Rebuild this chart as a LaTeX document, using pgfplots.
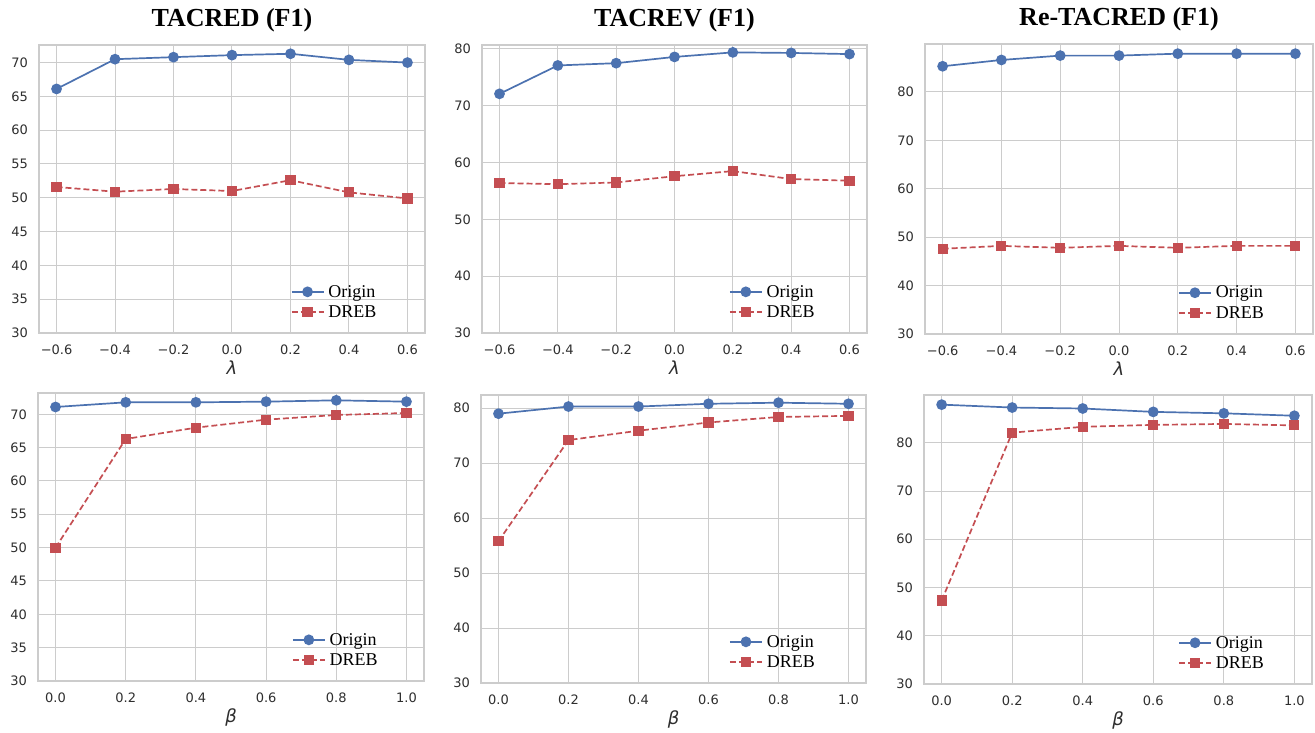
\documentclass[border=0pt]{standalone}
\usepackage{pgfplots}
\pgfplotsset{compat=1.18}
\usepackage{fontspec}
\setmainfont{DejaVu Sans}
\newfontfamily\tnr{Liberation Serif}
\definecolor{sblue}{HTML}{4C72B0}
\definecolor{sred}{HTML}{C44E52}
\definecolor{gridc}{HTML}{CCCCCC}
\definecolor{tickc}{HTML}{2E2E2E}
\pgfplotsset{
  myax/.style={
    scale only axis,
    axis line style={draw=gridc, line width=1.25pt},
    grid=major,
    major grid style={draw=gridc, line width=1pt},
    tick style={draw=none},
    ymin=30,
    /pgf/number format/assume math mode=true,
    tick label style={font=\fontsize{13}{13}\selectfont, color=tickc},
    yticklabel style={inner sep=0pt, anchor=east, xshift=-11pt},
    xticklabel style={inner sep=0pt, anchor=north, yshift=-12pt},
    xlabel style={font=\fontsize{18}{18}\selectfont\itshape, color=tickc, at={(0.5,0)}, anchor=north, inner sep=0pt, yshift=-28pt},
    title style={font=\tnr\bfseries\fontsize{26}{26}\selectfont, at={(0.5,1)}, anchor=base, yshift=12pt, inner sep=0pt},
    legend style={draw=none, fill=none, font=\tnr\fontsize{18}{18}\selectfont, anchor=south east, at={(0.885,0.045)}, inner sep=0pt, row sep=5pt, nodes={inner sep=1pt, inner xsep=4pt}},
    legend cell align=left,
    legend image code/.code={\draw[mark repeat=2,mark phase=2] plot coordinates {(0pt,0pt) (16pt,0pt) (32pt,0pt)};},
  },
  orig/.style={sblue, line width=1.7pt, mark=*, mark size=4.5pt, mark options={solid, fill=sblue, draw=sblue}},
  dreb/.style={sred, line width=1.7pt, dash pattern=on 6pt off 3pt, mark=square*, mark size=4.2pt, mark options={solid, fill=sred, draw=sred}},
  lamx/.style={xmin=-0.66, xmax=0.66, xtick={-0.6,-0.4,-0.2,0,0.2,0.4,0.6},
    xticklabels={−0.6,−0.4,−0.2,0.0,0.2,0.4,0.6}, xlabel={λ}},
  betx/.style={xmin=-0.05, xmax=1.05, xtick={0,0.2,0.4,0.6,0.8,1.0},
    xticklabels={0.0,0.2,0.4,0.6,0.8,1.0}, xlabel={β}},
}
\begin{document}
\begin{tikzpicture}
\useasboundingbox (0,0) rectangle (1315pt,733pt);
% ---- Top row
\begin{axis}[myax, lamx, at={(39pt,400pt)}, anchor=south west, width=386pt, height=288pt,
  ymax=72.6, ytick={30,35,...,70}, title={TACRED (F1)}]
\addplot[orig] coordinates {(-0.6,66.1) (-0.4,70.5) (-0.2,70.8) (0,71.1) (0.2,71.3) (0.4,70.4) (0.6,70.0)};
\addlegendentry{Origin}
\addplot[dreb] coordinates {(-0.6,51.6) (-0.4,50.9) (-0.2,51.3) (0,51.0) (0.2,52.6) (0.4,50.8) (0.6,49.9)};
\addlegendentry{DREB}
\end{axis}
\begin{axis}[myax, lamx, at={(482pt,400pt)}, anchor=south west, width=385pt, height=288pt,
  ymax=80.7, ytick={30,40,...,80}, title={TACREV (F1)}, legend style={at={(0.875,0.045)}}]
\addplot[orig] coordinates {(-0.6,72.1) (-0.4,77.1) (-0.2,77.5) (0,78.6) (0.2,79.4) (0.4,79.3) (0.6,79.1)};
\addlegendentry{Origin}
\addplot[dreb] coordinates {(-0.6,56.4) (-0.4,56.2) (-0.2,56.5) (0,57.6) (0.2,58.5) (0.4,57.1) (0.6,56.8)};
\addlegendentry{DREB}
\end{axis}
\begin{axis}[myax, lamx, at={(925pt,399pt)}, anchor=south west, width=388pt, height=290pt,
  ymax=89.9, ytick={30,40,...,80}, title={Re-TACRED (F1)}, legend style={at={(0.884,0.045)}}]
\addplot[orig] coordinates {(-0.6,85.3) (-0.4,86.6) (-0.2,87.5) (0,87.5) (0.2,87.9) (0.4,87.9) (0.6,87.9)};
\addlegendentry{Origin}
\addplot[dreb] coordinates {(-0.6,47.6) (-0.4,48.2) (-0.2,47.8) (0,48.2) (0.2,47.8) (0.4,48.2) (0.6,48.2)};
\addlegendentry{DREB}
\end{axis}
% ---- Bottom row
\begin{axis}[myax, betx, at={(38pt,52pt)}, anchor=south west, width=386pt, height=288pt,
  ymax=73.2, ytick={30,35,...,70}, legend style={at={(0.891,0.045)}}]
\addplot[orig] coordinates {(0,71.1) (0.2,71.8) (0.4,71.8) (0.6,71.9) (0.8,72.1) (1.0,71.9)};
\addlegendentry{Origin}
\addplot[dreb] coordinates {(0,50.0) (0.2,66.3) (0.4,68.0) (0.6,69.2) (0.8,69.9) (1.0,70.2)};
\addlegendentry{DREB}
\end{axis}
\begin{axis}[myax, betx, at={(481pt,50pt)}, anchor=south west, width=385pt, height=288pt,
  ymax=82.4, ytick={30,40,...,80}, legend style={at={(0.878,0.045)}}]
\addplot[orig] coordinates {(0,79.0) (0.2,80.3) (0.4,80.3) (0.6,80.8) (0.8,81.0) (1.0,80.8)};
\addlegendentry{Origin}
\addplot[dreb] coordinates {(0,55.8) (0.2,74.2) (0.4,75.9) (0.6,77.4) (0.8,78.4) (1.0,78.6)};
\addlegendentry{DREB}
\end{axis}
\begin{axis}[myax, betx, at={(924pt,49pt)}, anchor=south west, width=388pt, height=289pt,
  ymax=89.9, ytick={30,40,...,80}, legend style={at={(0.887,0.045)}}]
\addplot[orig] coordinates {(0,87.9) (0.2,87.3) (0.4,87.1) (0.6,86.4) (0.8,86.1) (1.0,85.6)};
\addlegendentry{Origin}
\addplot[dreb] coordinates {(0,47.3) (0.2,82.1) (0.4,83.3) (0.6,83.7) (0.8,83.9) (1.0,83.6)};
\addlegendentry{DREB}
\end{axis}
\end{tikzpicture}
\end{document}
